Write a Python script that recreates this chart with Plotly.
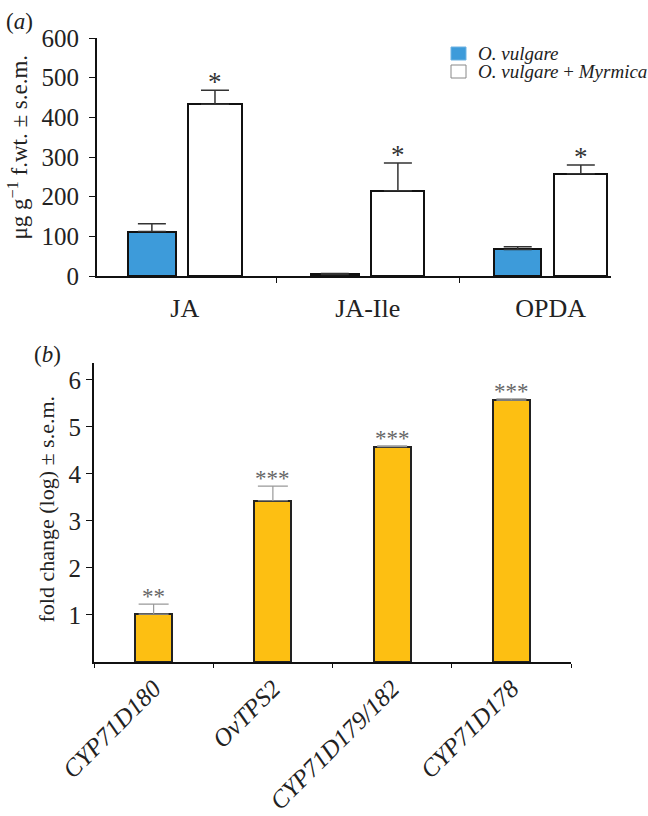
import plotly.graph_objects as go

# ---------- dados (a): hormonas ----------
hormonas = ["JA", "JA-Ile", "OPDA"]
ov_media = [112, 4, 67]
ov_erro = [20, 2, 7]
ovm_media = [433, 215, 258]
ovm_erro = [35, 70, 22]
sig_a = ["*", "*", "*"]
legenda = ["<i>O. vulgare</i>", "<i>O. vulgare</i> + <i>Myrmica</i>"]
titulo_a = "μg g<sup>−1</sup> f.wt. ± s.e.m."

# ---------- dados (b): expressão génica ----------
genes = ["CYP71D180", "OvTPS2", "CYP71D179/182", "CYP71D178"]
fold = [1.02, 3.43, 4.58, 5.57]
fold_erro = [0.21, 0.31, 0.02, 0.03]
sig_b = ["**", "***", "***", "***"]
titulo_b = "fold change (log) ± s.e.m."

W, H = 648, 816
SERIF = "Liberation Serif"
AZUL = "#3D9BDA"
OURO = "#FDBF12"

# larguras / deslocamentos das barras (em unidades de categoria)
OFF_OV, W_OV = -0.31, 0.26
OFF_OVM, W_OVM = 0.02, 0.29
W_B = 0.31

fig = go.Figure()

fig.add_trace(go.Bar(
    x=hormonas, y=ov_media, name=legenda[0], showlegend=False,
    offset=OFF_OV, width=W_OV,
    marker=dict(color=AZUL, line=dict(color="#111", width=2)),
    error_y=dict(type="data", array=ov_erro, arrayminus=[0] * 3, symmetric=False,
                 color="#333", thickness=1.5, width=14),
    xaxis="x", yaxis="y",
))
fig.add_trace(go.Bar(
    x=hormonas, y=ovm_media, name=legenda[1], showlegend=False,
    offset=OFF_OVM, width=W_OVM,
    marker=dict(color="white", line=dict(color="#111", width=2)),
    error_y=dict(type="data", array=ovm_erro, arrayminus=[0] * 3, symmetric=False,
                 color="#333", thickness=1.5, width=14),
    xaxis="x", yaxis="y",
))
fig.add_trace(go.Bar(
    x=genes, y=fold, width=W_B, showlegend=False,
    marker=dict(color=OURO, line=dict(color="#222", width=2)),
    error_y=dict(type="data", array=fold_erro, arrayminus=[0] * 4, symmetric=False,
                 color="#999", thickness=1.2, width=15),
    xaxis="x2", yaxis="y2",
))

anots = []
# asteriscos (a) sobre as barras brancas
for i, s in enumerate(sig_a):
    anots.append(dict(
        x=i + OFF_OVM + W_OVM / 2, y=ovm_media[i] + ovm_erro[i], xref="x", yref="y",
        text=s, showarrow=False, yanchor="bottom", yshift=-9,
        font=dict(family=SERIF, size=27, color="#333"),
    ))
# asteriscos (b)
for i, s in enumerate(sig_b):
    anots.append(dict(
        x=i, y=fold[i] + fold_erro[i], xref="x2", yref="y2",
        text=s, showarrow=False, yanchor="bottom", yshift=-7,
        font=dict(family=SERIF, size=23, color="#666"),
    ))
# etiquetas dos painéis
anots.append(dict(x=19 / W, y=1 - 21 / H, xref="paper", yref="paper", text="(<i>a</i>)",
                  xanchor="center", yanchor="middle", showarrow=False,
                  font=dict(family=SERIF, size=23, color="#222")))
anots.append(dict(x=47 / W, y=1 - 354 / H, xref="paper", yref="paper", text="(<i>b</i>)",
                  xanchor="center", yanchor="middle", showarrow=False,
                  font=dict(family=SERIF, size=23, color="#222")))
# títulos dos eixos y (ancorados pela direita)
anots.append(dict(x=34 / W, y=1 - 147 / H, xref="paper", yref="paper", text=titulo_a,
                  textangle=-90, xanchor="right", yanchor="middle", showarrow=False,
                  font=dict(family=SERIF, size=23, color="#222")))
anots.append(dict(x=60 / W, y=1 - 509 / H, xref="paper", yref="paper", text=titulo_b,
                  textangle=-90, xanchor="right", yanchor="middle", showarrow=False,
                  font=dict(family=SERIF, size=22, color="#222")))

# legenda desenhada à mão (entradas mais juntas do que a legenda do plotly)
cores_leg = [(AZUL, "#6FB3E3"), ("white", "#888")]
formas = []
for k, (txt, (cor, borda)) in enumerate(zip(legenda, cores_leg)):
    y0 = 47 + 18 * k
    formas.append(dict(type="rect", xref="paper", yref="paper",
                       x0=451 / W, x1=466 / W, y0=1 - (y0 + 13) / H, y1=1 - y0 / H,
                       fillcolor=cor, line=dict(color=borda, width=1)))
    anots.append(dict(x=476 / W, y=1 - (y0 + 6.5) / H, xref="paper", yref="paper",
                      xanchor="left", yanchor="middle", text=txt, showarrow=False,
                      font=dict(family=SERIF, size=19, color="#222")))

eixo = dict(showline=True, linecolor="#111", linewidth=2, ticks="outside",
            tickcolor="#111", showgrid=False, zeroline=False, automargin=False,
            tickfont=dict(family=SERIF, size=25, color="#222"))

fig.update_layout(
    width=W, height=H,
    margin=dict(l=0, r=0, t=0, b=0),
    paper_bgcolor="white", plot_bgcolor="white",
    barmode="overlay",
    bargap=0,
    showlegend=False,
    font=dict(family=SERIF, color="#222"),
    xaxis=dict(eixo, domain=[97 / W, 611 / W], anchor="y", type="category",
               range=[-0.48, 2.33], tickson="boundaries", ticklen=5,
               ticklabelstandoff=8, tickfont=dict(family=SERIF, size=26, color="#222")),
    yaxis=dict(eixo, domain=[1 - 276 / H, 1 - 38 / H], anchor="x",
               range=[0, 600], tickvals=[0, 100, 200, 300, 400, 500, 600], ticklen=6,
               ticklabelstandoff=5),
    xaxis2=dict(eixo, domain=[94 / W, 571 / W], anchor="y2", type="category",
                range=[-0.5, 3.5], tickson="boundaries", ticklen=4, tickangle=-45,
                tickvals=genes, ticktext=[f"<i>{g}</i>" for g in genes],
                tickfont=dict(family=SERIF, size=25, color="#222", style="italic")),
    yaxis2=dict(eixo, domain=[1 - 662 / H, 1 - 363 / H], anchor="x2",
                range=[0, 6.36], tickvals=[1, 2, 3, 4, 5, 6], ticklen=6),
    annotations=anots,
    shapes=formas,
)

fig.write_html("out.html", config={"displayModeBar": False},
               post_script="document.body.style.margin='0';")
